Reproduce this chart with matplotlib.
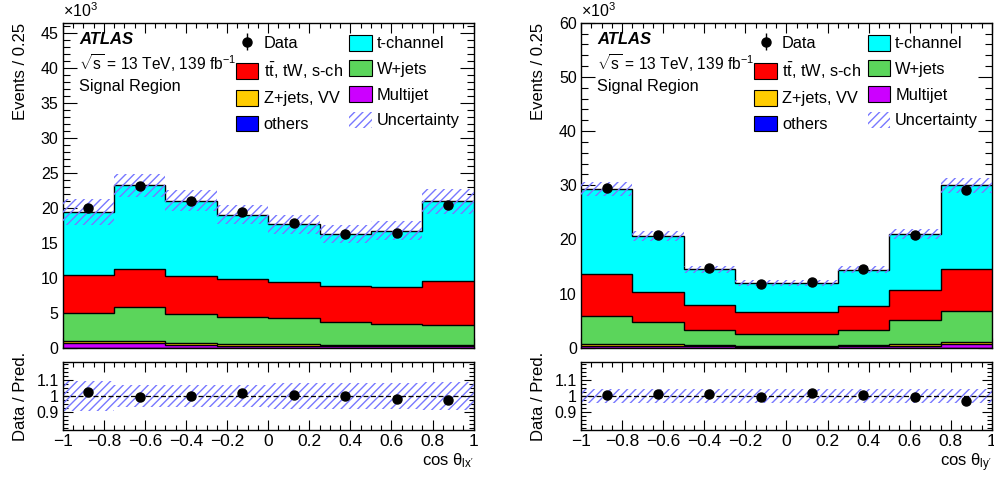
import numpy as np
import matplotlib
matplotlib.use('Agg')
import matplotlib.pyplot as plt
from matplotlib.patches import Patch
from matplotlib.ticker import MultipleLocator, FixedLocator, FuncFormatter

plt.rcParams['font.family'] = ['Liberation Sans', 'DejaVu Sans']
plt.rcParams['mathtext.fontset'] = 'custom'
plt.rcParams['mathtext.rm'] = 'Liberation Sans'
plt.rcParams['mathtext.it'] = 'Liberation Sans:italic'
plt.rcParams['mathtext.bf'] = 'Liberation Sans:bold'
plt.rcParams['hatch.linewidth'] = 1.0

# ---------------- data (events in thousands) ----------------
bin_edges = [-1.0, -0.75, -0.5, -0.25, 0.0, 0.25, 0.5, 0.75, 1.0]

# left panel: cos theta_lx'
lx_others = [0.02, 0.02, 0.02, 0.02, 0.02, 0.02, 0.02, 0.02]
lx_multijet = [0.60, 0.60, 0.36, 0.27, 0.27, 0.16, 0.16, 0.27]
lx_zjets = [0.33, 0.33, 0.24, 0.19, 0.23, 0.17, 0.17, 0.09]
lx_wjets = [4.05, 4.81, 4.14, 3.95, 3.67, 3.32, 3.08, 2.91]
lx_ttbar = [5.33, 5.52, 5.43, 5.33, 5.14, 5.09, 5.28, 6.18]
lx_tchan = [9.07, 11.92, 10.81, 9.24, 8.27, 7.44, 7.99, 11.43]
lx_data = [19.9, 23.1, 21.0, 19.4, 17.75, 16.2, 16.4, 20.4]
lx_unc = [0.095, 0.07, 0.07, 0.07, 0.08, 0.08, 0.08, 0.085]

# right panel: cos theta_ly'
ly_others = [0.02, 0.02, 0.02, 0.02, 0.02, 0.02, 0.02, 0.02]
ly_multijet = [0.35, 0.33, 0.26, 0.20, 0.20, 0.30, 0.35, 0.63]
ly_zjets = [0.31, 0.27, 0.17, 0.18, 0.18, 0.23, 0.31, 0.33]
ly_wjets = [5.23, 4.07, 2.87, 2.18, 2.13, 2.72, 4.43, 5.80]
ly_ttbar = [7.64, 5.65, 4.50, 4.01, 4.06, 4.43, 5.59, 7.69]
ly_tchan = [15.75, 10.26, 6.68, 5.31, 5.41, 6.70, 10.30, 15.53]
ly_data = [29.5, 20.9, 14.7, 11.8, 12.2, 14.5, 20.9, 29.1]
ly_unc = [0.045, 0.045, 0.045, 0.045, 0.045, 0.045, 0.045, 0.045]

xtick_vals = [-1, -0.8, -0.6, -0.4, -0.2, 0, 0.2, 0.4, 0.6, 0.8, 1]

labels = {
    'data': 'Data',
    'tchan': 't-channel',
    'ttbar': r'$\mathrm{t\bar{t}}$, tW, s-ch',
    'wjets': 'W+jets',
    'zjets': 'Z+jets, VV',
    'multijet': 'Multijet',
    'others': 'others',
    'unc': 'Uncertainty',
}
colors = {
    'others': '#0000ff',
    'multijet': '#cc00ff',
    'zjets': '#ffcc00',
    'wjets': '#5bd55b',
    'ttbar': '#ff0000',
    'tchan': '#00ffff',
}
hatch_col = '#7878ff'

FS_TICK = 11.5
FS_LAB = 12
FS_LEG = 11.8

fig = plt.figure(figsize=(9.95, 4.79), dpi=100)


def fmt(v, pos=None):
    v = round(v, 4) + 0.0
    return ('%g' % v).replace('-', '\u2212')


def style_axes(ax, xmajor, xminor, ymaj_len, xmaj_len):
    ax.tick_params(which='both', direction='in', top=True, right=True,
                   labelsize=FS_TICK)
    ax.tick_params(axis='y', which='major', length=ymaj_len, width=0.8, pad=3)
    ax.tick_params(axis='y', which='minor', length=ymaj_len * 0.5, width=0.8)
    ax.tick_params(axis='x', which='major', length=xmaj_len, width=0.8, pad=3)
    ax.tick_params(axis='x', which='minor', length=xmaj_len * 0.55, width=0.8)
    ax.xaxis.set_major_locator(FixedLocator(xmajor))
    ax.xaxis.set_minor_locator(MultipleLocator(xminor))
    for s in ax.spines.values():
        s.set_linewidth(1.0)


def draw_panel(left, ymax, ymaj, ymin, comps, data, unc, sub):
    w = 0.4130
    ax = fig.add_axes([left, 0.2740, w, 0.6785])
    rax = fig.add_axes([left, 0.1029, w, 0.1407])
    edges = np.array(bin_edges)
    centers = 0.5 * (edges[:-1] + edges[1:])
    widths = np.diff(edges)

    order = ['others', 'multijet', 'zjets', 'wjets', 'ttbar', 'tchan']
    base = np.zeros(len(centers))
    for key in order:
        vals = np.array(comps[key])
        top = base + vals
        ax.stairs(top, edges, baseline=base, fill=True, facecolor=colors[key],
                  edgecolor='none', zorder=2)
        ax.stairs(top, edges, baseline=None, color='black', lw=1.0, zorder=3)
        base = top
    total = base
    unc = np.array(unc)
    ax.bar(centers, 2 * unc * total, bottom=total * (1 - unc), width=widths,
           fill=False, hatch='////', edgecolor=hatch_col, linewidth=0, zorder=4)
    data = np.array(data)
    derr = np.sqrt(data * 1000.0) / 1000.0
    ax.errorbar(centers, data, yerr=derr, fmt='o', color='black', ms=6.5,
                elinewidth=1, capsize=0, zorder=6)
    ax.set_xlim(-1, 1)
    ax.set_ylim(0, ymax)
    style_axes(ax, xtick_vals, 0.05, 10, 7)
    ax.yaxis.set_major_locator(MultipleLocator(ymaj))
    ax.yaxis.set_minor_locator(MultipleLocator(ymin))
    ax.yaxis.set_major_formatter(FuncFormatter(fmt))
    ax.tick_params(axis='x', labelbottom=False)
    ax.set_ylabel('Events / 0.25', fontsize=FS_LAB, loc='top', labelpad=6)
    ax.text(0.0, 1.008, r'$\times$10$^{3}$', transform=ax.transAxes,
            fontsize=FS_TICK, ha='left', va='bottom')

    ax.text(0.04, 0.947, 'ATLAS', transform=ax.transAxes, fontsize=12,
            fontweight='bold', fontstyle='italic', va='center', ha='left')
    ax.text(0.04, 0.877, r'$\sqrt{\mathrm{s}}$ = 13 TeV, 139 fb$^{\mathrm{-1}}$',
            transform=ax.transAxes, fontsize=11.2, va='center', ha='left')
    ax.text(0.04, 0.805, 'Signal Region', transform=ax.transAxes,
            fontsize=11.7, va='center', ha='left')

    h_data = ax.errorbar([], [], yerr=[], fmt='o', color='black', ms=6.5,
                         elinewidth=1)
    def box(key):
        return Patch(facecolor=colors[key], edgecolor='black', linewidth=0.8)
    h_unc = Patch(facecolor='none', edgecolor=hatch_col, hatch='////',
                  linewidth=0)
    handles = [h_data, box('ttbar'), box('zjets'), box('others'),
               box('tchan'), box('wjets'), box('multijet'), h_unc]
    labs = [labels['data'], labels['ttbar'], labels['zjets'], labels['others'],
            labels['tchan'], labels['wjets'], labels['multijet'], labels['unc']]
    ax.legend(handles, labs, ncol=2, loc='upper left',
              bbox_to_anchor=(0.422, 0.963), frameon=False, fontsize=FS_LEG,
              handlelength=1.36, handleheight=1.12, handletextpad=0.32,
              labelspacing=0.56, columnspacing=0.4, borderpad=0,
              borderaxespad=0)

    # ratio
    ratio = data / total
    rerr = derr / total
    rax.bar(centers, 2 * unc, bottom=1 - unc, width=widths, fill=False,
            hatch='////', edgecolor=hatch_col, linewidth=0, zorder=2)
    rax.axhline(1.0, color='black', ls=(0, (4, 2)), lw=0.9, zorder=3)
    rax.errorbar(centers, ratio, yerr=rerr, fmt='o', color='black', ms=6.5,
                 elinewidth=1, capsize=0, zorder=5)
    rax.set_xlim(-1, 1)
    rax.set_ylim(0.79, 1.21)
    style_axes(rax, xtick_vals, 0.05, 7, 7)
    rax.yaxis.set_major_locator(FixedLocator([0.9, 1.0, 1.1]))
    rax.yaxis.set_minor_locator(MultipleLocator(0.025))
    rax.yaxis.set_major_formatter(FuncFormatter(fmt))
    rax.xaxis.set_major_formatter(FuncFormatter(fmt))
    rax.tick_params(axis='x', labelsize=12.5, pad=3)
    rax.set_ylabel('Data / Pred.', fontsize=FS_LAB, labelpad=6)
    rax.set_xlabel('cos \u03b8$_{\\mathrm{' + sub + "'}}$", fontsize=FS_LAB,
                   loc='right', labelpad=2)
    return ax, rax


comps_lx = {'others': lx_others, 'multijet': lx_multijet, 'zjets': lx_zjets,
            'wjets': lx_wjets, 'ttbar': lx_ttbar, 'tchan': lx_tchan}
comps_ly = {'others': ly_others, 'multijet': ly_multijet, 'zjets': ly_zjets,
            'wjets': ly_wjets, 'ttbar': ly_ttbar, 'tchan': ly_tchan}

axl, raxl = draw_panel(0.0630, 46.4, 5, 1, comps_lx, lx_data, lx_unc, 'lx')
axr, raxr = draw_panel(0.5839, 60, 10, 2, comps_ly, ly_data, ly_unc, 'ly')

axl.yaxis.set_label_coords(-0.085, 1.0)
axr.yaxis.set_label_coords(-0.085, 1.0)
raxl.yaxis.set_label_coords(-0.085, 0.5)
raxr.yaxis.set_label_coords(-0.085, 0.5)

fig.savefig('out.png', dpi=100)
